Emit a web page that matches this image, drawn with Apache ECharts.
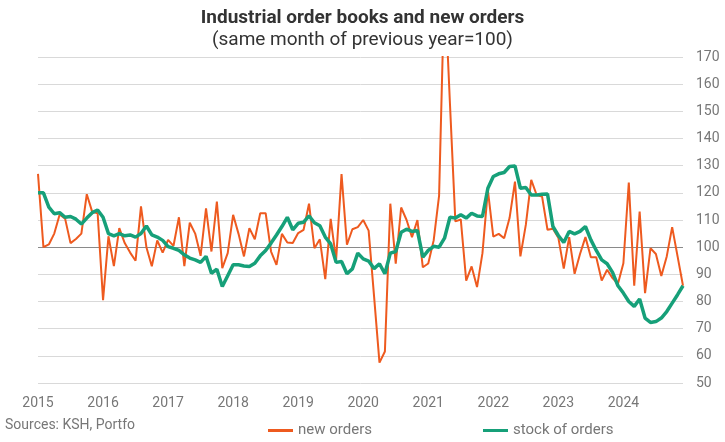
<!DOCTYPE html>
<html>
<head>
<meta charset="utf-8">
<script src="https://cdn.jsdelivr.net/npm/echarts@6/dist/echarts.min.js"></script>
<style>
  html, body { margin: 0; padding: 0; background: #fff; }
  #chart { width: 725px; height: 442px; }
</style>
</head>
<body>
<div id="chart"></div>
<script>
var years = ["2015","2016","2017","2018","2019","2020","2021","2022","2023","2024"];
var monthNames = ["01","02","03","04","05","06","07","08","09","10","11","12"];

var newOrders = [
  127, 100, 101, 105, 112, 110.5, 101.5, 103, 105, 119.5, 113, 112.5,
  80.5, 104, 93, 107, 101.5, 98, 95, 115, 100, 93, 102.5, 98,
  102.7, 100.5, 111, 93, 109, 105, 96.8, 114.3, 98.4, 116.8, 92.3, 97.8,
  111.9, 104.9, 96.6, 107, 102.9, 112.5, 112.5, 98.4, 93.5, 104.9, 101.7, 101.5,
  105.2, 106.4, 116, 99.6, 102.9, 88.2, 110.4, 95.3, 126.9, 100.9, 106.6, 107.4,
  110, 106.1, 82, 57.5, 61.6, 116, 93.9, 114.6, 110, 103.7, 110, 92.6,
  94, 102.5, 119, 198, 153, 109.5, 110.2, 87.7, 92.9, 85.3, 97.8, 121,
  103.9, 104.9, 103.3, 110.7, 124.1, 96.6, 108.2, 124.8, 119.2, 118.6, 106.4, 106.8,
  103.5, 92.1, 103.7, 90.2, 97.5, 103.7, 96.3, 96.3, 87.7, 91.7, 88.6, 86.5,
  94.1, 123.8, 85.8, 113.1, 83.1, 99.6, 97.5, 89.4, 96.6, 107.4, 96.6, 85.8
];

var stockOfOrders = [
  120, 120, 114.7, 112.3, 112.7, 111, 111.3, 110.3, 108.5, 110.7, 112.7, 113.7,
  111, 105, 104.2, 105, 104.2, 104.5, 103.7, 105, 107.8, 104.5, 103.7, 102.5,
  100.2, 99.6, 98.8, 97.2, 96, 95.3, 94.4, 96.6, 90.4, 91.9, 85.5, 89.5,
  93.5, 93.5, 93.1, 92.9, 94.1, 96.8, 98.8, 101.5, 104.5, 107.6, 111, 106.4,
  108.8, 109.2, 111.5, 109, 107.9, 103.7, 101.2, 94.4, 94.7, 90.2, 92, 97.8,
  95.7, 94.9, 92.1, 93.9, 90.2, 97.8, 98.4, 105.5, 106.6, 105.8, 106.1, 96.3,
  98.8, 100.3, 100, 103.3, 111, 110.7, 111.9, 110.7, 112.5, 111.5, 111.3, 121.7,
  126, 127, 127.5, 129.7, 129.9, 121.7, 122, 119.2, 119.2, 119.5, 119.6, 107.6,
  104.3, 101.7, 105.8, 104.9, 105.8, 107.6, 102.7, 98.8, 95.3, 93.9, 90.7, 85.8,
  83.1, 80, 78.2, 80.9, 73.9, 72.3, 72.6, 73.9, 76.3, 79.4, 82.5, 85.8
];

var yTicks = [50, 60, 70, 80, 90, 100, 110, 120, 130, 140, 150, 160, 170];

var categories = [];
years.forEach(function (y) {
  monthNames.forEach(function (m) { categories.push(y + "-" + m); });
});

var splitColors = yTicks.map(function (t) { return t === 100 ? '#8a8a8a' : '#d9d9d9'; });

var chart = echarts.init(document.getElementById('chart'), null, { renderer: 'canvas' });
chart.setOption({
  animation: false,
  backgroundColor: '#ffffff',
  textStyle: { fontFamily: 'Roboto' },
  title: {
    text: 'Industrial order books and new orders',
    subtext: '(same month of previous year=100)',
    left: 'center',
    top: 4,
    itemGap: 3,
    textStyle: { fontFamily: 'Roboto', fontSize: 19, fontWeight: 'bold', color: '#333333' },
    subtextStyle: { fontFamily: 'Roboto', fontSize: 19, color: '#333333' }
  },
  legend: [
    {
      data: ['new orders'],
      left: 263, top: 418,
      icon: 'rect', itemWidth: 25, itemHeight: 3,
      textStyle: { fontFamily: 'Roboto', fontSize: 15, color: '#777777' }
    },
    {
      data: ['stock of orders'],
      left: 478, top: 418,
      icon: 'rect', itemWidth: 25, itemHeight: 3,
      textStyle: { fontFamily: 'Roboto', fontSize: 15, color: '#777777' }
    }
  ],
  graphic: [
    {
      type: 'text', left: 5, top: 418,
      style: { text: 'Sources: KSH, Portfo', fontFamily: 'Roboto', fontSize: 14, fill: '#777777' }
    }
  ],
  grid: { left: 38, right: 42, top: 57, bottom: 59 },
  xAxis: {
    type: 'category',
    data: categories,
    boundaryGap: false,
    axisLine: { show: false },
    axisTick: { show: false },
    splitLine: { show: false },
    axisLabel: {
      interval: 11,
      margin: 13,
      fontFamily: 'Roboto',
      fontSize: 14,
      color: '#777777',
      formatter: function (v) { return v.split('-')[0]; }
    }
  },
  yAxis: {
    type: 'value',
    position: 'right',
    min: yTicks[0],
    max: yTicks[yTicks.length - 1],
    interval: 10,
    axisLine: { show: false },
    axisTick: { show: false },
    axisLabel: { margin: 13, fontFamily: 'Roboto', fontSize: 14, color: '#777777' },
    splitLine: { show: true, lineStyle: { color: splitColors, width: 1 } }
  },
  series: [
    {
      name: 'new orders',
      type: 'line',
      data: newOrders,
      symbol: 'none',
      clip: true,
      color: '#EE5A1F',
      lineStyle: { color: '#EE5A1F', width: 2 }
    },
    {
      name: 'stock of orders',
      type: 'line',
      data: stockOfOrders,
      symbol: 'none',
      clip: true,
      color: '#16A079',
      lineStyle: { color: '#16A079', width: 3.5 }
    }
  ]
});
</script>
</body>
</html>
